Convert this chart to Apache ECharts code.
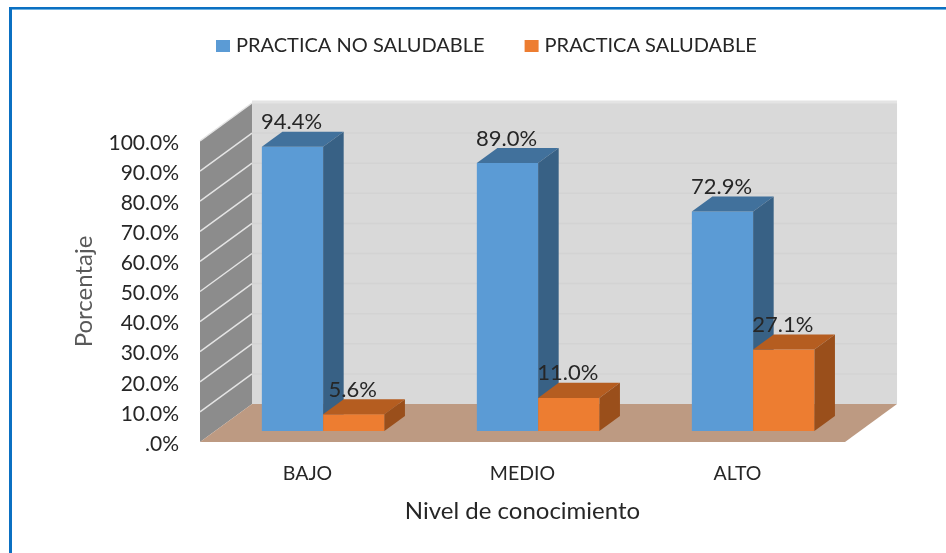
<!DOCTYPE html>
<html>
<head>
<meta charset="utf-8">
<style>html,body{margin:0;padding:0;background:#fff}#c{width:946px;height:553px}</style>
<script src="https://cdn.jsdelivr.net/npm/echarts@6/dist/echarts.min.js"></script>
</head>
<body>
<div id="c"></div>
<script>
const categories = ['BAJO', 'MEDIO', 'ALTO'];
const noSaludable = [94.4, 89.0, 72.9];
const saludable = [5.6, 11.0, 27.1];
const tickValues = [0, 10, 20, 30, 40, 50, 60, 70, 80, 90, 100];
const seriesNames = ['PRACTICA NO SALUDABLE', 'PRACTICA SALUDABLE'];

const FONT = 'Lato';
const WALL_DX = 0.242, WALL_RATIO = 0.73;   // wall depth relative to category band
const BAR_W = 0.285, BAR_GAP = 0.2175, BAR_DEPTH = 0.395, BAR_FRONT = 0.29;

function poly(points, fill, z2) {
  return { type: 'polygon', shape: { points }, style: { fill }, z2: z2 || 0 };
}
function wallItem(params, api) {
  const band = api.size([1, 0])[0];
  const dx = band * WALL_DX, dy = dx * WALL_RATIO;
  const v = api.value(0);
  const p = api.coord([0, v]);
  const x0 = p[0] - band / 2, x1 = x0 + band * categories.length, y = p[1];
  const kids = [];
  if (v === 0) {
    const yTop = api.coord([0, 100])[1];
    kids.push(poly([[x0 + dx, yTop - dy], [x1 + dx, yTop - dy], [x1 + dx, y - dy], [x0 + dx, y - dy]], '#d9d9d9'));
    kids.push(poly([[x0, yTop], [x0 + dx, yTop - dy], [x0 + dx, y - dy], [x0, y]], '#8c8c8c'));
    kids.push(poly([[x0, y], [x0 + dx, y - dy], [x1 + dx, y - dy], [x1, y]], '#bd9a82'));
  } else {
    const top = v === 100;
    kids.push({ type: 'line', shape: { x1: x0 + dx, y1: y - dy - (top ? 1 : 0), x2: x1 + dx, y2: y - dy - (top ? 1 : 0) },
      style: { stroke: top ? '#e4e4e4' : '#d3d3d3', lineWidth: top ? 3 : 1.5 }, z2: 1 });
    kids.push({ type: 'line', shape: { x1: x0, y1: y, x2: x0 + dx, y2: y - dy },
      style: { stroke: '#e4e4e4', lineWidth: 1.5 }, z2: 1 });
  }
  return { type: 'group', children: kids };
}
function barItem(slot, colors) {
  return function (params, api) {
    const band = api.size([1, 0])[0];
    const wallDx = band * WALL_DX, wallDy = wallDx * WALL_RATIO;
    const i = api.value(0), val = api.value(1);
    const c0 = api.coord([i, 0]), c1 = api.coord([i, val]);
    const sx = wallDx * BAR_FRONT, sy = wallDy * BAR_FRONT;
    const dx = wallDx * BAR_DEPTH, dy = wallDy * BAR_DEPTH;
    const w = band * BAR_W;
    const x0 = c0[0] - band / 2 + band * BAR_GAP + sx + slot * w, x1 = x0 + w;
    const yb = c0[1] - sy, yt = c1[1] - sy;
    return { type: 'group', children: [
      poly([[x0, yb], [x1, yb], [x1, yt], [x0, yt]], colors[0]),
      poly([[x0, yt], [x1, yt], [x1 + dx, yt - dy], [x0 + dx, yt - dy]], colors[1]),
      poly([[x1, yb], [x1 + dx, yb - dy], [x1 + dx, yt - dy], [x1, yt]], colors[2]),
      { type: 'text', z2: 5, style: { x: (x0 + x1) / 2 - 1, y: yt - 24.5, text: val.toFixed(1) + '%',
        align: 'center', verticalAlign: 'middle', fill: '#262626', font: '22px ' + FONT } }
    ] };
  };
}
const chart = echarts.init(document.getElementById('c'));
chart.setOption({
  animation: false,
  backgroundColor: '#ffffff',
  graphic: [
    { type: 'rect', shape: { x: 9, y: 9, width: 937, height: 1 }, style: { fill: '#6fb1e0' } },
    { type: 'rect', shape: { x: 9, y: 7, width: 937, height: 2 }, style: { fill: '#0b70c2' } },
    { type: 'rect', shape: { x: 9, y: 7, width: 3, height: 546 }, style: { fill: '#0b70c2' } }
  ],
  legend: {
    data: seriesNames, left: 211, top: 31, itemWidth: 14, itemHeight: 12, itemGap: 40,
    icon: 'rect', textStyle: { fontFamily: FONT, fontSize: 20, color: '#262626', padding: [0, 0, 0, 1] }
  },
  grid: { left: 200, right: 101, top: 141, bottom: 111 },
  xAxis: {
    type: 'category', data: categories,
    axisLine: { show: false }, axisTick: { show: false }, splitLine: { show: false },
    axisLabel: { margin: 22, fontFamily: FONT, fontSize: 19.5, color: '#262626' },
    name: 'Nivel de conocimiento', nameLocation: 'middle', nameGap: 57,
    nameTextStyle: { fontFamily: FONT, fontSize: 24, color: '#262626' }
  },
  yAxis: {
    type: 'value', min: 0, max: 100, interval: 10,
    axisLine: { show: false }, axisTick: { show: false }, splitLine: { show: false },
    axisLabel: { margin: 21, fontFamily: FONT, fontSize: 21, color: '#262626',
      verticalAlign: 'top', lineHeight: 4,
      formatter: v => v === 0 ? '.0%' : v.toFixed(1) + '%' },
    name: 'Porcentaje', nameLocation: 'middle', nameGap: 104, nameRotate: 90,
    nameTextStyle: { fontFamily: FONT, fontSize: 24, color: '#595959' }
  },
  series: [
    { type: 'custom', name: 'walls', silent: true, coordinateSystem: 'cartesian2d',
      encode: { y: 0 }, data: tickValues.map(v => [v]), renderItem: wallItem, z: 1 },
    { type: 'custom', name: seriesNames[0], itemStyle: { color: '#5b9bd5' },
      encode: { x: 0, y: 1 }, data: noSaludable.map((v, i) => [i, v]),
      renderItem: barItem(0, ['#5b9bd5', '#41719c', '#386185']), z: 2 },
    { type: 'custom', name: seriesNames[1], itemStyle: { color: '#ed7d31' },
      encode: { x: 0, y: 1 }, data: saludable.map((v, i) => [i, v]),
      renderItem: barItem(1, ['#ed7d31', '#b55d20', '#9a4f1b']), z: 3 }
  ]
});
</script>
</body>
</html>
